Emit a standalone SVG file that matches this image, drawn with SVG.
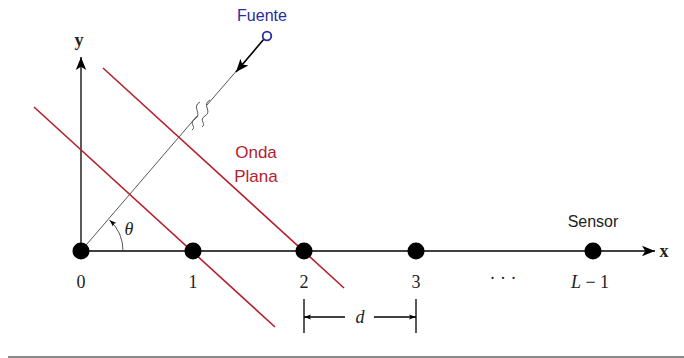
<svg xmlns="http://www.w3.org/2000/svg" width="684" height="358" viewBox="0 0 684 358">
<style>
.ax{stroke:#000;stroke-width:1.3;fill:none}
.wave{stroke:#b5202e;stroke-width:1.6;fill:none}
.node{fill:#000}
.num{font-family:"Liberation Serif",serif;font-size:18px;fill:#222;text-anchor:middle}
.sans{font-family:"Liberation Sans",Arial,sans-serif;font-size:16px;text-anchor:middle}
.thin{stroke:#444;stroke-width:0.9;fill:none}
</style>
<defs>
<marker id="arr" viewBox="0 0 10 10" refX="10" refY="5" markerWidth="10" markerHeight="10" markerUnits="userSpaceOnUse" orient="auto">
<path d="M0,1 L10,5 L0,9 L2,5 Z" fill="#000"/>
</marker>
<marker id="arrB" viewBox="0 0 10 10" refX="10" refY="5" markerWidth="13" markerHeight="13" markerUnits="userSpaceOnUse" orient="auto">
<path d="M0,1 L10,5 L0,9 L2.5,5 Z" fill="#000"/>
</marker>
<marker id="arrS" viewBox="0 0 10 10" refX="10" refY="5" markerWidth="7" markerHeight="7" markerUnits="userSpaceOnUse" orient="auto">
<path d="M0,1.5 L10,5 L0,8.5 L2,5 Z" fill="#000"/>
</marker>
</defs>
<g id="connectors">
<line class="ax" x1="81" y1="251" x2="655" y2="251" marker-end="url(#arrB)"/>
<line class="ax" x1="81" y1="251" x2="81" y2="57" marker-end="url(#arrB)"/>
<line class="thin" x1="81" y1="251" x2="197" y2="116"/>
<line class="thin" x1="207" y1="105" x2="245" y2="61"/>
<line stroke="#000" stroke-width="1.6" x1="264" y1="39" x2="236" y2="72" marker-end="url(#arrB)"/>
<path class="thin" stroke-width="1" d="M200,102 C191,107 203,114 195,119 C188,123 197,127 192,130"/>
<path class="thin" stroke-width="1" d="M210,100 C201,105 213,111 205,116 C198,120 207,124 202,127"/>
<path class="thin" d="M123,251 A42,42 0 0 0 109.5,220" marker-end="url(#arrS)"/>
<line class="wave" x1="34" y1="107" x2="275" y2="327"/>
<line class="wave" x1="103" y1="68" x2="344" y2="288"/>
<line class="ax" x1="304" y1="299" x2="304" y2="333"/>
<line class="ax" x1="416" y1="299" x2="416" y2="333"/>
<line class="ax" stroke-width="1" x1="345" y1="317" x2="304" y2="317" marker-end="url(#arrS)"/>
<line class="ax" stroke-width="1" x1="374" y1="317" x2="416" y2="317" marker-end="url(#arrS)"/>
<line stroke="#888" stroke-width="2" x1="8" y1="357" x2="684" y2="357"/>
</g>
<g id="source">
<circle cx="267" cy="36" r="4.3" fill="#fff" stroke="#2a2aa0" stroke-width="1.8"/>
<text class="sans" x="262" y="21" fill="#2a2aa0">Fuente</text>
</g>
<g id="n0"><circle class="node" cx="81" cy="251" r="8.5"/><text class="num" x="81" y="288">0</text></g>
<g id="n1"><circle class="node" cx="193" cy="251" r="8.5"/><text class="num" x="193" y="288">1</text></g>
<g id="n2"><circle class="node" cx="304" cy="251" r="8.5"/><text class="num" x="304" y="288">2</text></g>
<g id="n3"><circle class="node" cx="416" cy="251" r="8.5"/><text class="num" x="416" y="288">3</text></g>
<g id="dots"><text class="num" x="503" y="284">· · ·</text></g>
<g id="nL"><circle class="node" cx="593" cy="251" r="8.5"/><text class="num" x="590" y="288"><tspan font-style="italic">L</tspan> − 1</text>
<text class="sans" x="593" y="227" fill="#222">Sensor</text></g>
<g id="labels">
<text x="256" y="158" font-family="Liberation Sans,Arial,sans-serif" font-size="17" fill="#b5202e" text-anchor="middle">Onda</text>
<text x="256" y="182" font-family="Liberation Sans,Arial,sans-serif" font-size="17" fill="#b5202e" text-anchor="middle">Plana</text>
<text x="129" y="235" font-family="Liberation Serif,serif" font-size="18" font-style="italic" fill="#222" text-anchor="middle">θ</text>
<text x="664" y="257" font-family="Liberation Serif,serif" font-size="18" font-weight="bold" fill="#222" text-anchor="middle">x</text>
<text x="79" y="46" font-family="Liberation Serif,serif" font-size="18" font-weight="bold" fill="#222" text-anchor="middle">y</text>
<text x="360" y="323" font-family="Liberation Serif,serif" font-size="18" font-style="italic" fill="#222" text-anchor="middle">d</text>
</g>
</svg>
